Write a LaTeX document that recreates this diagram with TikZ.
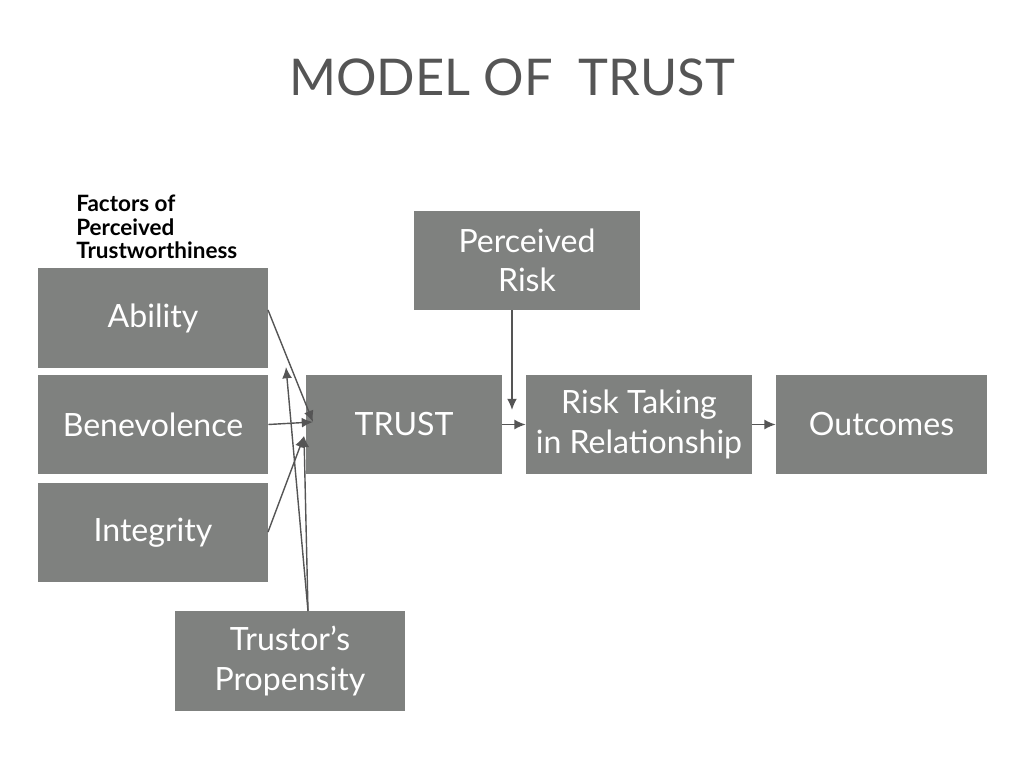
\documentclass[tikz,border=0pt]{standalone}
\usepackage{fontspec}
\setmainfont{Lato}
\usetikzlibrary{arrows.meta}
\definecolor{boxgray}{HTML}{7F817F}
\definecolor{linegray}{HTML}{555555}
\tikzset{
  factor/.style={fill=boxgray, text=white, inner sep=0pt, align=center,
    minimum height=2.475cm, font=\fontsize{22.8}{28}\selectfont},
  link/.style={-{Latex[length=8pt,width=7pt]}, draw=linegray, line width=1pt}
}
\begin{document}
\begin{tikzpicture}[x=0.025cm, y=-0.025cm]
				\useasboundingbox (0,0) rectangle (1024,768);
				\node[text=linegray, font=\fontsize{36}{44}\selectfont] (title) at (512,77) {MODEL OF\ \ TRUST};
				\node[anchor=north west, align=left, inner sep=0pt, font=\fontsize{16}{16.5}\selectfont\bfseries] (factors) at (76,195) {Factors of\\Perceived\\Trustworthiness};

				\node[factor, minimum width=5.75cm] (ability) at (153,318) {Ability};
				\node[factor, minimum width=5.75cm] (benevolence) at (153,424.5) {Benevolence};
				\node[factor, minimum width=5.75cm] (integrity) at (153,532.5) {Integrity};
				\node[factor, minimum width=5.75cm, minimum height=2.5cm] (propensity) at (290,661) {Trustor's\\Propensity};
				\node[factor, minimum width=4.9cm] (trust) at (404,424.5) {TRUST};
				\node[factor, minimum width=5.65cm] (risk) at (527,260.5) {Perceived\\Risk};
				\node[factor, minimum width=5.65cm] (taking) at (639,424.5) {Risk Taking\\in Relationship};
				\node[factor, minimum width=5.275cm] (outcomes) at (881.5,424.5) {Outcomes};

				\coordinate (abilityout) at (268,310);
				\coordinate (integrityout) at (268,532);
				\coordinate (trustin) at (313,422);
				\coordinate (trustlow) at (304,436);
				\coordinate (abilitylow) at (286,367);
				\coordinate (propup) at (308,611);
				\coordinate (riskin) at (512,410);

				\draw[link] (abilityout) -- (trustin);
				\draw[link] (benevolence.east) -- (trustin);
				\draw[link] (integrityout) -- (trustlow);
				\draw[link] (propup) -- (trustlow);
				\draw[link] (propup) -- (abilitylow);
				\draw[link] (risk.south -| riskin) -- (riskin);
				\draw[link] (trust.east) -- (taking.west);
				\draw[link] (taking.east) -- (outcomes.west);
				\end{tikzpicture}
\end{document}
